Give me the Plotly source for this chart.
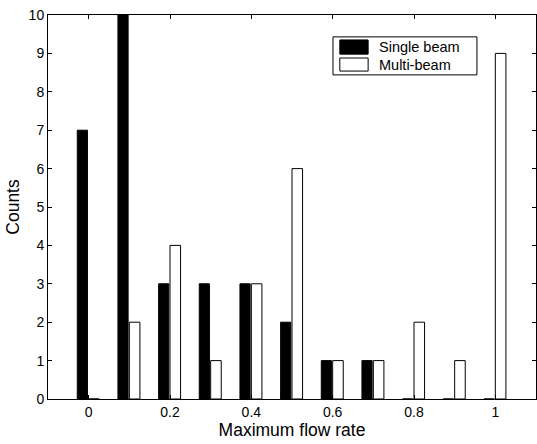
import plotly.graph_objects as go

flow_rate = [0.0, 0.1, 0.2, 0.3, 0.4, 0.5, 0.6, 0.7, 0.8, 0.9, 1.0]
single_beam = [7, 10, 3, 3, 3, 2, 1, 1, 0, 0, 0]
multi_beam = [0, 2, 4, 1, 3, 6, 1, 1, 2, 1, 9]
x_tickvals = [0, 0.2, 0.4, 0.6, 0.8, 1.0]
x_ticktext = ["0", "0.2", "0.4", "0.6", "0.8", "1"]
y_tickvals = list(range(0, 11))

FONT = "Liberation Sans, Arial, Helvetica, sans-serif"

fig = go.Figure()
fig.add_trace(go.Bar(
    x=flow_rate, y=single_beam, name="Single beam",
    width=0.025, offset=-0.028,
    marker=dict(color="black", line=dict(color="black", width=1)),
    showlegend=False,
))
fig.add_trace(go.Bar(
    x=flow_rate, y=multi_beam, name="Multi-beam",
    width=0.026, offset=0.0,
    marker=dict(color="white", line=dict(color="black", width=1)),
    showlegend=False,
))

# custom legend (box, swatches, labels)
shapes = [
    dict(type="rect", xref="paper", yref="paper", x0=0.584, x1=0.879, y0=0.844, y1=0.943,
         line=dict(color="black", width=1), fillcolor="white", layer="above"),
    dict(type="rect", xref="paper", yref="paper", x0=0.598, x1=0.656, y0=0.898, y1=0.935,
         line=dict(color="black", width=1), fillcolor="black", layer="above"),
    dict(type="rect", xref="paper", yref="paper", x0=0.598, x1=0.656, y0=0.854, y1=0.888,
         line=dict(color="black", width=1), fillcolor="white", layer="above"),
]
annotations = [
    dict(text=fig.data[0].name, xref="paper", yref="paper", x=0.674, y=0.917,
         xanchor="left", yanchor="middle", showarrow=False,
         font=dict(family=FONT, size=14.5, color="black")),
    dict(text=fig.data[1].name, xref="paper", yref="paper", x=0.674, y=0.871,
         xanchor="left", yanchor="middle", showarrow=False,
         font=dict(family=FONT, size=14.5, color="black")),
]

fig.update_layout(
    width=537, height=444,
    margin=dict(l=48, r=1, t=15, b=45, autoexpand=False),
    paper_bgcolor="white", plot_bgcolor="white",
    barmode="overlay",
    font=dict(family=FONT, size=14, color="black"),
    shapes=shapes, annotations=annotations,
    xaxis=dict(
        range=[-0.1, 1.1], tickvals=x_tickvals, ticktext=x_ticktext,
        ticks="inside", ticklen=4, tickcolor="black", tickwidth=1,
        tickfont=dict(family=FONT, size=14, color="black"),
        showline=True, linecolor="black", linewidth=1, mirror="ticks",
        showgrid=False, zeroline=False, automargin=False,
        title=dict(text="Maximum flow rate", font=dict(family=FONT, size=17.5), standoff=4),
    ),
    yaxis=dict(
        range=[0, 10], tickvals=y_tickvals,
        ticks="inside", ticklen=4, tickcolor="black", tickwidth=1,
        tickfont=dict(family=FONT, size=14, color="black"),
        showline=True, linecolor="black", linewidth=1, mirror="ticks",
        showgrid=False, zeroline=False, automargin=False,
        title=dict(text="Counts", font=dict(family=FONT, size=17.5), standoff=4),
    ),
)

fig.write_html(
    "out.html",
    config={"displayModeBar": False},
    post_script="document.body.style.margin='0';document.body.style.padding='0';",
)
